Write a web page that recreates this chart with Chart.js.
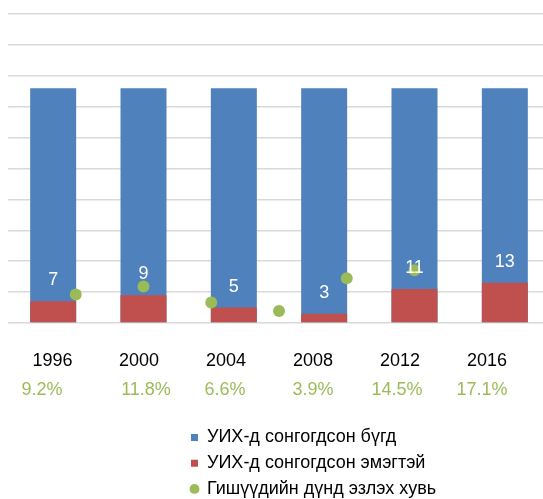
<!DOCTYPE html>
<html>
<head>
<meta charset="utf-8">
<script src="https://cdn.jsdelivr.net/npm/chart.js@4/dist/chart.umd.min.js"></script>
<style>
  html, body { margin: 0; padding: 0; background: #fff; overflow: hidden; }
  #wrap { width: 551px; height: 499px; }
</style>
</head>
<body>
<div id="wrap"><canvas id="c" width="551" height="499"></canvas></div>
<script>
// ---- data ----
const years = ['1996', '2000', '2004', '2008', '2012', '2016'];
const totalSeats = [76, 76, 76, 76, 76, 76];
const womenSeats = [7, 9, 5, 3, 11, 13];
const womenShare = [9.2, 11.8, 6.6, 3.9, 14.5, 17.1];
const shareLabels = ['9.2%', '11.8%', '6.6%', '3.9%', '14.5%', '17.1%'];
const seriesNames = ['УИХ-д сонгогдсон бүгд', 'УИХ-д сонгогдсон эмэгтэй', 'Гишүүдийн дүнд эзлэх хувь'];

// ---- layout (label positions on a 0..8 helper axis) ----
const yearPos = [0.657, 1.934, 3.218, 4.502, 5.786, 7.07];
const sharePos = [0.502, 2.037, 3.203, 4.502, 5.742, 6.996];

const BLUE = '#4F81BD', RED = '#C0504D', GREEN = '#9BBB59', GRID = '#D9D9D9';

function hasFont(name) {
  const c = document.createElement('canvas').getContext('2d');
  const s = 'abcdefghij 1234567890 УИХсонгогд';
  c.font = '40px monospace';
  const w0 = c.measureText(s).width;
  c.font = '40px "' + name + '", monospace';
  return Math.abs(c.measureText(s).width - w0) > 0.5;
}
const NARROW = hasFont('Liberation Sans Narrow');
const FONT = NARROW ? '"Liberation Sans Narrow", "Liberation Sans", Arial, sans-serif'
                    : '"Liberation Sans", Arial, sans-serif';
const FS = NARROW ? 21 : 18;
Chart.defaults.font.family = FONT;

const barLabels = {
  id: 'barLabels',
  afterDatasetsDraw(chart) {
    const meta = chart.getDatasetMeta(1);
    const ctx = chart.ctx;
    ctx.save();
    ctx.fillStyle = '#ffffff';
    ctx.font = FS + 'px ' + FONT;
    ctx.textAlign = 'center';
    ctx.textBaseline = 'middle';
    meta.data.forEach((bar, i) => {
      ctx.fillText(String(womenSeats[i]), bar.x, bar.y - 21);
    });
    ctx.restore();
  }
};

const LEG_PAD = 25.7 - FS;
const LEG_TOP = 437.5 - LEG_PAD - FS / 2;
const legendColumn = {
  id: 'legendColumn',
  beforeUpdate(chart) {
    const lg = chart.legend;
    if (lg && !lg._colPatched) {
      const orig = lg.update.bind(lg);
      lg.update = function (mw, mh, margins) {
        orig(1, mh, margins);
        this.height = 499 - LEG_TOP;
      };
      lg._colPatched = true;
    }
  },
  afterLayout(chart) {
    const lg = chart.legend;
    lg.left = 191 - LEG_PAD;
    lg.width = 300;
    lg.right = lg.left + lg.width;
  }
};

function labelAxis(pos, labels, color, weight, padding, height) {
  return {
    type: 'linear',
    position: 'bottom',
    offset: false,
    min: 0,
    max: 8,
    weight: weight,
    grid: { display: false, drawTicks: false, offset: false },
    border: { display: false },
    afterBuildTicks: s => { s.ticks = pos.map(v => ({ value: v })); },
    afterFit: s => { s.height = height; },
    ticks: {
      autoSkip: false,
      maxRotation: 0,
      minRotation: 0,
      padding: padding,
      color: color,
      font: { size: FS, family: FONT },
      callback: (v, i) => labels[i]
    }
  };
}

const yearPad = 361.2 - 323 - FS * 0.6;
const pctPad = 390 - 373 - FS * 0.6;

new Chart(document.getElementById('c'), {
  type: 'bar',
  data: {
    labels: years,
    datasets: [
      {
        label: seriesNames[0],
        data: totalSeats,
        backgroundColor: BLUE,
        xAxisID: 'x',
        yAxisID: 'y',
        grouped: false,
        order: 2,
        barPercentage: 0.509,
        categoryPercentage: 1
      },
      {
        label: seriesNames[1],
        data: womenSeats,
        backgroundColor: RED,
        xAxisID: 'x',
        yAxisID: 'y',
        grouped: false,
        order: 1,
        barPercentage: 0.509,
        categoryPercentage: 1
      },
      {
        type: 'scatter',
        label: seriesNames[2],
        data: womenShare.map((v, i) => ({ x: i + 1, y: v })),
        backgroundColor: GREEN,
        borderColor: GREEN,
        borderWidth: 0,
        pointRadius: 6,
        clip: false,
        xAxisID: 'xDot',
        yAxisID: 'y',
        order: 0
      }
    ]
  },
  options: {
    responsive: false,
    animation: false,
    devicePixelRatio: 1,
    layout: { autoPadding: false, padding: { left: 8, right: 1, top: 14, bottom: 0 } },
    scales: {
      x: { type: 'category', display: false, offset: true, grid: { display: false } },
      xDot: { type: 'linear', display: false, offset: false, min: 0, max: 8, grid: { offset: false } },
      xYear: labelAxis(yearPos, years, '#000000', 1, yearPad, 50),
      xPct: labelAxis(sharePos, shareLabels, GREEN, 2, pctPad, LEG_TOP - 373),
      y: {
        min: 0,
        max: 100,
        ticks: { display: false, stepSize: 10 },
        grid: { color: GRID, lineWidth: 1.5, drawTicks: false },
        border: { display: false }
      }
    },
    plugins: {
      tooltip: { enabled: false },
      legend: {
        display: true,
        position: 'bottom',
        align: 'start',
        labels: {
          usePointStyle: true,
          boxWidth: 7,
          boxHeight: 7,
          padding: LEG_PAD,
          color: '#000000',
          font: { size: FS, family: FONT },
          generateLabels: chart => chart.data.datasets.map((ds, i) => ({
            text: ds.label,
            fillStyle: ds.backgroundColor,
            strokeStyle: ds.backgroundColor,
            lineWidth: 0,
            pointStyle: i < 2 ? 'rect' : 'circle',
            hidden: false,
            datasetIndex: i
          }))
        }
      }
    }
  },
  plugins: [barLabels, legendColumn]
});
</script>
</body>
</html>
